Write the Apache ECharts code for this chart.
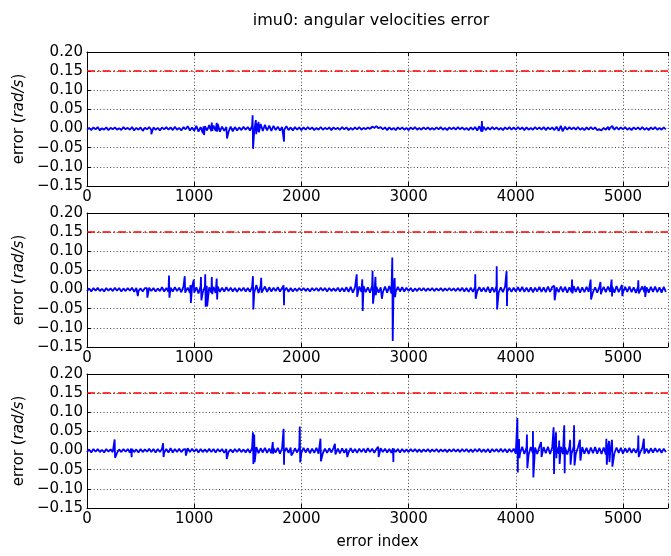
<!DOCTYPE html>
<html>
<head>
<meta charset="utf-8">
<script src="https://cdn.jsdelivr.net/npm/echarts@6/dist/echarts.min.js"></script>
<style>
  html, body { margin: 0; padding: 0; background: #fff; }
  #chart { width: 671px; height: 556px; }
</style>
</head>
<body>
<div id="chart"></div>
<script>
// values in 1e-3 rad/s, baseline sampled every STEP indices
const STEP = 20;
const X_MAX = 5420;
const THRESHOLD = 0.15;
const xTicks = [0, 1000, 2000, 3000, 4000, 5000];

const base1 = [
  -3, 2, -4, 3, -2, 4, -5, 1, -3, 3, -4, 2, -2, 3, -3, 1, -4, 4, -2, 2,
  -3, 4, -5, 2, -3, 3, -6, 2, -2, 4, -4, 3, -3, 2, -5, 3, -2, 4, -3, 3,
  -4, 5, -3, 2, -5, 4, -2, 6, -5, 3, -6, 7, -8, 4, -12, 6, -5, 9, -7, 8,
  -6, 12, -8, 5, -6, 4, -9, 5, -7, 4, -5, 3, -4, 5, -3, 4, -5, 6, -7, 14,
  -9, 12, -6, 10, -5, 8, -6, 7, -4, 5, -5, 4, -3, 6, -4, 3, -5, 4, -3, 3,
  -4, 3, -3, 4, -2, 3, -4, 2, -3, 4, -3, 2, -2, 3, -4, 3, -2, 2, -3, 4,
  -2, 3, -4, 2, -3, 3, -2, 4, -3, 2, -2, 3, -1, 5, 2, 6, 1, 4, -2, 3,
  -4, 3, -3, 2, -4, 3, -2, 3, -3, 2, -4, 3, -2, 4, -3, 2, -3, 3, -2, 3,
  -3, 2, -3, 3, -2, 4, -3, 2, -4, 3, -2, 3, -3, 4, -2, 3, -3, 2, -4, 3,
  -3, 4, -5, 6, -8, 5, -4, 3, -3, 4, -2, 3, -3, 2, -4, 3, -2, 4, -3, 3,
  -3, 4, -2, 3, -4, 3, -3, 2, -3, 4, -2, 3, -3, 4, -4, 3, -2, 3, -4, 5,
  -6, 7, -4, 5, -3, 4, -2, 3, -3, 4, -3, 2, -4, 3, -3, 4, -2, 3, -4, -2,
  -5, 2, -3, 5, 2, 7, -3, 4, -3, 3, -2, 4, -3, 2, -4, 3, -2, 3, -3, 4,
  -3, 2, -4, 3, -2, 4, -3, 2, -3, 3, -2
];
const base2 = [
  -4, 3, -5, 4, -3, 5, -4, 2, -5, 4, -3, 3, -4, 5, -3, 4, -5, 3, -4, 4,
  -3, 5, -6, 4, -4, 3, -5, 4, -3, 5, -4, 4, -5, 3, -4, 6, -5, 4, -6, 5,
  -5, 6, -4, 5, -7, 8, -6, 5, -9, 7, -8, 6, -10, 9, -7, 8, -9, 6, -8, 7,
  -9, 8, -6, 5, -5, 6, -4, 5, -5, 4, -6, 4, -4, 5, -5, 4, -6, 7, -8, 12,
  -9, 10, -7, 8, -6, 6, -5, 5, -4, 6, -5, 4, -4, 5, -6, 4, -5, 3, -4, 4,
  -3, 4, -4, 3, -5, 4, -3, 4, -4, 5, -3, 4, -5, 4, -4, 3, -4, 5, -5, 4,
  -5, 6, -6, 7, -8, 6, -7, 8, -6, 9, -7, 6, -8, 10, -9, 7, -8, 6, -7, 8,
  -8, 9, -10, 8, -6, 7, -5, 6, -5, 5, -4, 4, -5, 3, -4, 4, -3, 4, -4, 3,
  -3, 4, -4, 3, -3, 4, -4, 3, -3, 4, -3, 3, -4, 4, -4, 5, -5, 4, -6, 5,
  -6, 7, -5, 6, -5, 5, -6, 7, -8, 6, -7, 9, -8, 6, -7, 8, -6, 5, -6, 5,
  -5, 6, -5, 7, -6, 5, -6, 6, -7, 5, -5, 7, -6, 6, -7, 8, -6, 7, -9, 6,
  -7, 8, -6, 7, -8, 6, -7, 9, -6, 7, -8, 6, -7, 7, -6, 8, -7, 6, -8, 7,
  -6, 7, -7, 8, -6, 7, -8, 9, -7, 6, -8, 7, -6, 8, -7, 6, -9, 7, -6, 8,
  -7, 6, -8, 7, -6, 8, -7, 6, -8, 7, -6
];
const base3 = [
  -4, 3, -5, 4, -3, 4, -4, 2, -5, 4, -3, 3, -4, 5, -6, 3, -4, 4, -3, 4,
  -5, 4, -4, 3, -5, 4, -4, 3, -3, 5, -4, 4, -5, 4, -4, 5, -6, 4, -5, 6,
  -5, 4, -4, 5, -4, 3, -5, 6, -4, 5, -3, 4, -5, 4, -4, 3, -4, 5, -4, 4,
  -5, 4, -3, 4, -6, 4, -4, 3, -5, 4, -4, 5, -4, 3, -5, 4, -6, 7, -8, 9,
  -7, 6, -5, 7, -6, 5, -7, 6, -5, 7, -8, 6, -5, 7, -6, 8, -7, 6, -5, 7,
  -6, 7, -5, 6, -7, 5, -6, 7, -8, 6, -7, 5, -6, 6, -5, 7, -6, 5, -7, 6,
  -6, 5, -5, 6, -5, 4, -6, 5, -4, 5, -5, 6, -4, 5, -6, 4, -5, 6, -4, 5,
  -5, 4, -6, 5, -4, 4, -5, 4, -4, 3, -4, 4, -3, 4, -4, 3, -4, 3, -3, 4,
  -4, 3, -3, 4, -4, 3, -3, 3, -4, 3, -3, 4, -3, 3, -4, 4, -3, 4, -4, 3,
  -4, 4, -3, 5, -4, 3, -4, 4, -5, 4, -3, 4, -4, 5, -4, 4, -5, 4, -4, 5,
  -8, 9, -7, 10, -9, 8, -10, 9, -7, 8, -9, 10, -8, 9, -7, 10, -9, 8, -10, 9,
  -8, 10, -9, 8, -10, 9, -8, 10, -9, 8, -7, 9, -8, 7, -9, 8, -7, 9, -8, 7,
  -9, 8, -10, 9, -8, 9, -7, 8, -6, 7, -8, 6, -5, 7, -6, 5, -6, 7, -5, 6,
  -6, 5, -7, 6, -5, 6, -4, 5, -6, 5, -4
];

// spikes: [index, peak up, peak down] in 1e-3 rad/s
const spikes1 = [
  [596, 4, -15], [1088, 6, -17], [1164, 16, -6], [1210, 15, -8], [1302, 3, -26],
  [1545, 35, -53], [1575, 22, -15], [1600, 18, -10], [1834, 8, -34],
  [3684, 20, -8], [4433, 10, -7], [4866, 10, -4]
];
const spikes2 = [
  [470, 3, -17], [559, 4, -21], [765, 37, -21], [912, 35, -8], [965, 12, -35],
  [996, 26, -10], [1063, 33, -28], [1103, 40, -45], [1117, 10, -44], [1164, 33, -12],
  [1210, 29, -26], [1548, 35, -52], [1625, 31, -8], [1834, 11, -41],
  [2516, 40, -19], [2568, 27, -56], [2664, 49, -37], [2691, 33, -15], [2747, 8, -24],
  [2848, 84, -134], [2870, 30, -20], [3622, 40, -24], [3822, 61, -52], [3914, 48, -43],
  [4359, 10, -28], [4525, 26, -10], [4698, 26, -26], [4790, 20, -12], [4894, 26, -18],
  [4990, 12, -17], [5143, 24, -10], [5204, 10, -19]
];
const spikes3 = [
  [258, 29, -19], [412, 5, -17], [710, 19, -17], [919, 4, -13], [1300, 4, -22],
  [1548, 48, -35], [1560, 42, -30], [1733, 22, -8], [1834, 57, -37], [1902, 6, -13],
  [1985, 63, -31], [2178, 31, -28], [2313, 18, -10], [2424, 6, -17], [2716, 10, -17],
  [2854, 6, -30], [4015, 85, -57], [4030, 30, -20], [4104, 42, -46], [4160, 51, -70],
  [4236, 22, -17], [4353, 61, -61], [4375, 48, -20], [4405, 26, -35], [4452, 66, -59],
  [4507, 28, -37], [4544, 66, -39], [4599, 28, -26], [4845, 31, -37], [4870, 25, -30],
  [4897, 28, -42], [5143, 39, -17], [5195, 31, -8]
];

function buildData(base, spikes) {
  let pts = base.map((v, k) => [k * STEP, v / 1000]);
  spikes.forEach(s => {
    pts.push([s[0], s[1] / 1000]);
    pts.push([s[0] + 4, s[2] / 1000]);
  });
  pts.sort((a, b) => a[0] - b[0]);
  return pts;
}

const chart = echarts.init(document.getElementById("chart"));
const font = "DejaVu Sans";
const gridTops = [52, 213, 374];
const plots = [buildData(base1, spikes1), buildData(base2, spikes2), buildData(base3, spikes3)];

const dotted = { type: [1, 2.3], color: "#000", width: 1, opacity: 0.75 };

let grids = [], xAxes = [], topAxes = [], yAxes = [], series = [];
gridTops.forEach((top, i) => {
  grids.push({ left: 87, top: top, width: 588, height: 134 });
  xAxes.push({
    gridIndex: i,
    type: "value",
    min: 0,
    max: X_MAX,
    interval: 1000,
    name: i === 2 ? "error index" : "",
    nameLocation: "middle",
    nameGap: 27,
    nameTextStyle: { fontFamily: font, fontSize: 15, color: "#000" },
    axisLine: { onZero: false, lineStyle: { color: "#000", width: 1 } },
    axisTick: { inside: true, length: 4, lineStyle: { color: "#000" } },
    axisLabel: {
      fontFamily: font, fontSize: 15, color: "#000", margin: 4,
      formatter: v => (xTicks.indexOf(v) >= 0 ? String(v) : "")
    },
    splitLine: { show: true, lineStyle: dotted }
  });
  topAxes.push({
    gridIndex: i,
    type: "value",
    position: "top",
    min: 0,
    max: X_MAX,
    interval: 1000,
    axisLine: { onZero: false, lineStyle: { color: "#000", width: 1 } },
    axisTick: { inside: true, length: 4, lineStyle: { color: "#000" } },
    axisLabel: { show: false },
    splitLine: { show: false }
  });
  yAxes.push({
    gridIndex: i,
    type: "value",
    min: -0.15,
    max: 0.2,
    interval: 0.05,
    name: "{a|error (}{b|rad/s}{a|)}",
    nameLocation: "middle",
    nameGap: 60,
    nameTextStyle: {
      rich: {
        a: { fontFamily: font, fontSize: 15, color: "#000" },
        b: { fontFamily: font, fontSize: 15, fontStyle: "italic", color: "#000" }
      }
    },
    axisLine: { show: true, onZero: false, lineStyle: { color: "#000", width: 1 } },
    axisTick: { show: true, inside: true, length: 4, lineStyle: { color: "#000" } },
    axisLabel: {
      fontFamily: font, fontSize: 15, color: "#000", margin: 4,
      formatter: v => v.toFixed(2).replace("-", "\u2212")
    },
    splitLine: { show: true, lineStyle: dotted }
  });
  series.push({
    type: "line",
    xAxisIndex: i,
    yAxisIndex: i,
    data: plots[i],
    showSymbol: false,
    symbol: "none",
    lineStyle: { color: "#0000ff", width: 1.8 },
    markLine: {
      silent: true,
      symbol: ["none", "none"],
      label: { show: false },
      lineStyle: { color: "#ff0000", type: [8, 3, 1.5, 3], width: 1.5 },
      data: [{ yAxis: THRESHOLD }]
    }
  });
});

const option = {
  animation: false,
  title: {
    text: "imu0: angular velocities error",
    left: 366,
    top: 8,
    textAlign: "center",
    textStyle: { fontFamily: font, fontSize: 16, fontWeight: "normal", color: "#000" }
  },
  grid: grids,
  xAxis: xAxes.concat(topAxes),
  yAxis: yAxes,
  series: series
};
chart.setOption(option);
</script>
</body>
</html>
